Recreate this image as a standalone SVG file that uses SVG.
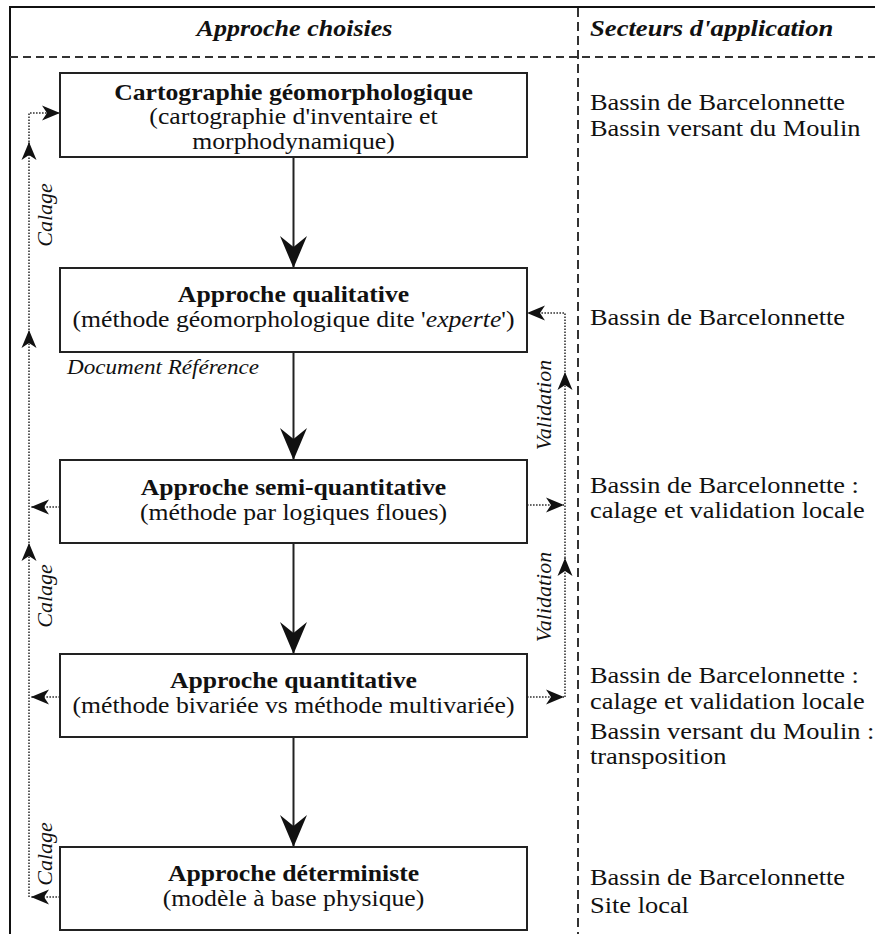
<svg xmlns="http://www.w3.org/2000/svg" width="875" height="934" viewBox="0 0 875 934">
<defs>
<style>
text{font-family:"Liberation Serif","Times New Roman",serif;fill:#111}
.title{font-size:24px;font-weight:bold;text-anchor:middle}
.sub{font-size:24px;text-anchor:middle}
.head{font-size:24px;font-weight:bold;font-style:italic}
.side{font-size:24px}
.lab{font-size:22px;font-style:italic}
.box{fill:#fff;stroke:#222;stroke-width:2}
.frame{fill:none;stroke:#111;stroke-width:2}
.dash{fill:none;stroke:#333;stroke-width:2;stroke-dasharray:8 5}
.vdash{fill:none;stroke:#333;stroke-width:2;stroke-dasharray:9 5}
.main{fill:none;stroke:#222;stroke-width:2}
.dot{fill:none;stroke:#333;stroke-width:1.6;stroke-dasharray:1.6 1.4}
</style>
<marker id="big" markerUnits="userSpaceOnUse" markerWidth="34" markerHeight="28" refX="33" refY="14" orient="auto" viewBox="0 0 34 28">
<path d="M1,0.5 L33,14 L1,27.5 L12,14 Z" fill="#111"/>
</marker>
<marker id="sm" markerUnits="userSpaceOnUse" markerWidth="19" markerHeight="16" refX="18" refY="8" orient="auto" viewBox="0 0 19 16">
<path d="M0,0.5 L18,8 L0,15.5 L5,8 Z" fill="#111"/>
</marker>
</defs>
<rect width="875" height="934" fill="#fff"/>

<g id="frame">
<path class="frame" d="M10,934 L10,7 L875,7"/>
<path class="dash" d="M10,57 L875,57"/>
<path class="vdash" d="M578,8 L578,934"/>
<text class="head" transform="matrix(1.085 0 0 1 294.5 0)" x="0" y="36" text-anchor="middle">Approche choisies</text>
<text class="head" transform="matrix(1.11 0 0 1 590 0)" x="0" y="36">Secteurs d'application</text>
</g>

<g id="connectors">
<path class="main" d="M293.5,157 L293.5,268" marker-end="url(#big)"/>
<path class="main" d="M293.5,352 L293.5,460" marker-end="url(#big)"/>
<path class="main" d="M293.5,543 L293.5,654" marker-end="url(#big)"/>
<path class="main" d="M293.5,737 L293.5,847" marker-end="url(#big)"/>

<path class="dot" d="M29,897 L29,543" marker-end="url(#sm)"/>
<path class="dot" d="M29,543 L29,330" marker-end="url(#sm)"/>
<path class="dot" d="M29,330 L29,142" marker-end="url(#sm)"/>
<path class="dot" d="M29,142 L29,113 L60,113" marker-end="url(#sm)"/>
<path class="dot" d="M60,507 L31,507" marker-end="url(#sm)"/>
<path class="dot" d="M60,697 L31,697" marker-end="url(#sm)"/>
<path class="dot" d="M60,897 L31,897" marker-end="url(#sm)"/>

<path class="dot" d="M565,697 L565,558" marker-end="url(#sm)"/>
<path class="dot" d="M565,558 L565,372" marker-end="url(#sm)"/>
<path class="dot" d="M565,372 L565,313 L527,313" marker-end="url(#sm)"/>
<path class="dot" d="M527,505 L564,505" marker-end="url(#sm)"/>
<path class="dot" d="M527,697 L564,697" marker-end="url(#sm)"/>

<text class="lab" transform="translate(52,215) rotate(-90)" text-anchor="middle">Calage</text>
<text class="lab" transform="translate(52,596) rotate(-90)" text-anchor="middle">Calage</text>
<text class="lab" transform="translate(52,854) rotate(-90)" text-anchor="middle">Calage</text>
<text class="lab" transform="translate(551,405) rotate(-90)" text-anchor="middle">Validation</text>
<text class="lab" transform="translate(551,597) rotate(-90)" text-anchor="middle">Validation</text>
<text class="lab" style="font-size:21px" transform="matrix(1.1 0 0 1 67 0)" x="0" y="374">Document Référence</text>
</g>

<g id="n1">
<rect class="box" x="60" y="73" width="467" height="84"/>
<g transform="matrix(1.07 0 0 1 293.5 0)">
<text class="title" x="0" y="100">Cartographie géomorphologique</text>
<text class="sub" x="0" y="124.5">(cartographie d'inventaire et</text>
<text class="sub" x="0" y="149">morphodynamique)</text>
</g>
</g>
<g id="n2">
<rect class="box" x="60" y="268" width="467" height="84"/>
<g transform="matrix(1.07 0 0 1 293.5 0)">
<text class="title" x="0" y="302">Approche qualitative</text>
<text class="sub" x="0" y="327">(méthode géomorphologique dite '<tspan font-style="italic">experte</tspan>')</text>
</g>
</g>
<g id="n3">
<rect class="box" x="60" y="460" width="467" height="83"/>
<g transform="matrix(1.07 0 0 1 293.5 0)">
<text class="title" x="0" y="495">Approche semi-quantitative</text>
<text class="sub" x="0" y="520.5">(méthode par logiques floues)</text>
</g>
</g>
<g id="n4">
<rect class="box" x="60" y="654" width="467" height="83"/>
<g transform="matrix(1.07 0 0 1 293.5 0)">
<text class="title" x="0" y="688">Approche quantitative</text>
<text class="sub" x="0" y="713">(méthode bivariée vs méthode multivariée)</text>
</g>
</g>
<g id="n5">
<rect class="box" x="60" y="847" width="467" height="83"/>
<g transform="matrix(1.07 0 0 1 293.5 0)">
<text class="title" x="0" y="881">Approche déterministe</text>
<text class="sub" x="0" y="906">(modèle à base physique)</text>
</g>
</g>

<g id="s1" transform="matrix(1.1 0 0 1 590 0)">
<text class="side" x="0" y="110">Bassin de Barcelonnette</text>
<text class="side" x="0" y="136">Bassin versant du Moulin</text>
</g>
<g id="s2" transform="matrix(1.1 0 0 1 590 0)">
<text class="side" x="0" y="325">Bassin de Barcelonnette</text>
</g>
<g id="s3" transform="matrix(1.1 0 0 1 590 0)">
<text class="side" x="0" y="493">Bassin de Barcelonnette :</text>
<text class="side" x="0" y="518">calage et validation locale</text>
</g>
<g id="s4" transform="matrix(1.1 0 0 1 590 0)">
<text class="side" x="0" y="683">Bassin de Barcelonnette :</text>
<text class="side" x="0" y="709">calage et validation locale</text>
<text class="side" x="0" y="739">Bassin versant du Moulin :</text>
<text class="side" x="0" y="764">transposition</text>
</g>
<g id="s5" transform="matrix(1.1 0 0 1 590 0)">
<text class="side" x="0" y="885">Bassin de Barcelonnette</text>
<text class="side" x="0" y="913">Site local</text>
</g>
</svg>
